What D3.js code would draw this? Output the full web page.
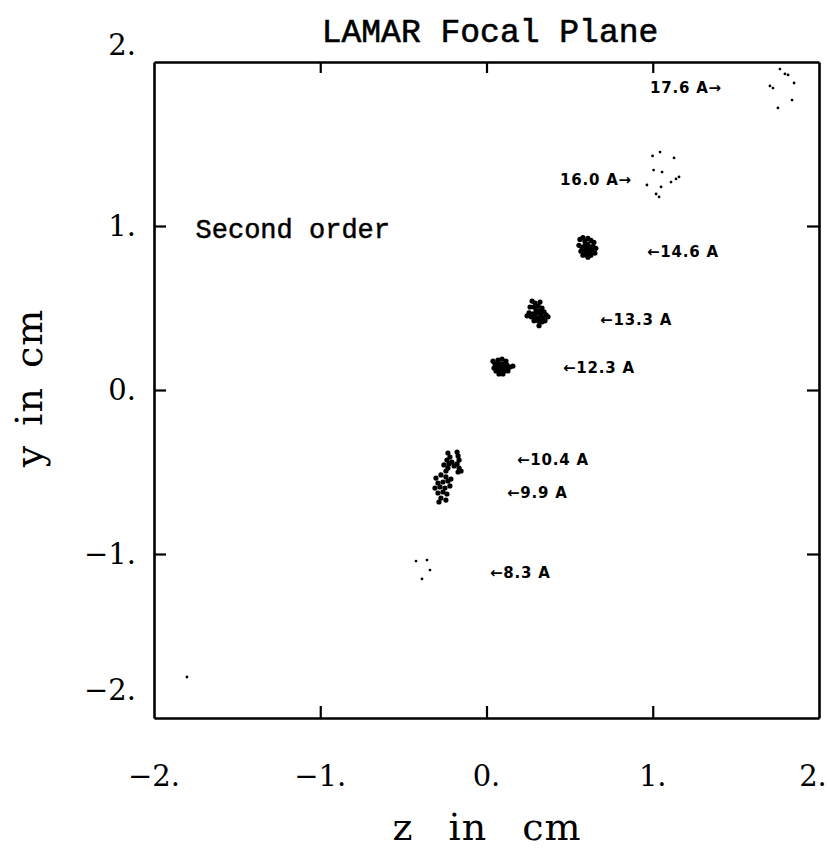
<!DOCTYPE html>
<html><head><meta charset="utf-8">
<script src="https://cdn.jsdelivr.net/npm/d3@7/dist/d3.min.js"></script>
<style>
html,body{margin:0;padding:0;background:#fff;}
</style></head>
<body>
<svg id="chart" width="829" height="863"></svg>
<script>
// ---------- DATA ----------
const title = "LAMAR Focal Plane";
const annotation = "Second order";
const xAxisLabel = "z in cm";
const yAxisLabel = "y in cm";
const tickValues = [-2, -1, 0, 1, 2];
const tickLabels = ["\u22122.", "\u22121.", "0.", "1.", "2."];

// spot-diagram clusters, [z, y] in cm
const spot176 = [[1.765,1.957],[1.795,1.927],[1.814,1.921],[1.850,1.872],[1.705,1.854],[1.723,1.841],[1.838,1.768],[1.753,1.720]];
const spot160 = [[0.999,1.427],[1.044,1.451],[1.128,1.415],[1.056,1.329],[1.005,1.341],[1.158,1.299],[1.140,1.287],[1.110,1.268],[0.965,1.250],[1.050,1.238],[1.020,1.195],[1.038,1.177]];
const spot146 = [[0.562,0.918],[0.580,0.930],[0.592,0.906],[0.610,0.924],[0.628,0.912],[0.646,0.900],[0.556,0.882],[0.574,0.870],[0.592,0.882],[0.610,0.888],[0.622,0.870],[0.640,0.876],[0.658,0.864],[0.568,0.846],[0.586,0.852],[0.604,0.858],[0.616,0.840],[0.634,0.852],[0.598,0.828],[0.610,0.810],[0.628,0.822],[0.580,0.822],[0.652,0.834]];
const spot133 = [[0.274,0.542],[0.292,0.530],[0.322,0.536],[0.262,0.506],[0.286,0.506],[0.310,0.512],[0.334,0.500],[0.298,0.488],[0.322,0.482],[0.346,0.476],[0.256,0.470],[0.280,0.464],[0.304,0.470],[0.328,0.458],[0.358,0.458],[0.268,0.446],[0.292,0.446],[0.316,0.440],[0.340,0.440],[0.370,0.446],[0.286,0.422],[0.310,0.422],[0.334,0.416],[0.244,0.452],[0.316,0.392],[0.352,0.422]];
const spot123 = [[0.069,0.182],[0.093,0.188],[0.117,0.176],[0.051,0.158],[0.075,0.158],[0.099,0.158],[0.123,0.152],[0.045,0.134],[0.069,0.140],[0.093,0.140],[0.117,0.134],[0.141,0.140],[0.057,0.116],[0.081,0.116],[0.105,0.116],[0.129,0.116],[0.075,0.098],[0.099,0.098],[0.159,0.146],[0.039,0.176]];
const spot104 = [[-0.232,-0.384],[-0.220,-0.409],[-0.238,-0.427],[-0.226,-0.451],[-0.232,-0.476],[-0.244,-0.494],[-0.177,-0.378],[-0.171,-0.402],[-0.165,-0.427],[-0.177,-0.451],[-0.165,-0.476],[-0.171,-0.500],[-0.153,-0.494],[-0.208,-0.439],[-0.195,-0.463],[-0.256,-0.457]];
const spot99 = [[-0.304,-0.537],[-0.274,-0.518],[-0.244,-0.530],[-0.292,-0.567],[-0.262,-0.561],[-0.232,-0.555],[-0.310,-0.598],[-0.280,-0.591],[-0.250,-0.598],[-0.220,-0.585],[-0.292,-0.628],[-0.262,-0.622],[-0.238,-0.634],[-0.274,-0.659],[-0.244,-0.671],[-0.286,-0.683],[-0.214,-0.543]];
const spot83 = [[-0.424,-1.043],[-0.358,-1.037],[-0.340,-1.098],[-0.388,-1.152]];
const strayPoints = [[-1.802,-1.750]];

const clusters = [spot176, spot160, spot146, spot133, spot123, spot104, spot99, spot83, strayPoints];
const clusterDense = [false, false, true, true, true, true, true, false, false];

// wavelength annotations
const labelText = ["17.6 A\u2192", "16.0 A\u2192", "\u219014.6 A", "\u219013.3 A", "\u219012.3 A", "\u219010.4 A", "\u21909.9 A", "\u21908.3 A"];
const labelZ = [0.983, 0.442, 0.965, 0.683, 0.460, 0.183, 0.123, 0.021];
const labelY = [1.841, 1.280, 0.841, 0.427, 0.134, -0.427, -0.628, -1.116];

// ---------- DRAW ----------
const svg = d3.select("#chart");
const L = 154, R = 819, T = 62, B = 718;
const x = d3.scaleLinear().domain([-2, 2]).range([L, R]);
const y = d3.scaleLinear().domain([-2, 2]).range([B, T]);

const inner = [-1, 0, 1];
function styleAxis(g){
  g.select(".domain").attr("stroke","#000").attr("stroke-width",2.6);
  g.selectAll(".tick line").attr("stroke","#000").attr("stroke-width",2.2);
}
svg.append("g").attr("transform",`translate(0,${B})`)
  .call(d3.axisBottom(x).tickValues(inner).tickSize(-12).tickSizeOuter(0).tickFormat("")).call(styleAxis);
svg.append("g").attr("transform",`translate(0,${T})`)
  .call(d3.axisTop(x).tickValues(inner).tickSize(-11).tickSizeOuter(0).tickFormat("")).call(styleAxis);
svg.append("g").attr("transform",`translate(${L},0)`)
  .call(d3.axisLeft(y).tickValues(inner).tickSize(-12).tickSizeOuter(0).tickFormat("")).call(styleAxis);
svg.append("g").attr("transform",`translate(${R},0)`)
  .call(d3.axisRight(y).tickValues(inner).tickSize(-12).tickSizeOuter(0).tickFormat("")).call(styleAxis);

const serif = "'DejaVu Serif', 'Liberation Serif', serif";
// x tick labels
svg.append("g").selectAll("text").data(tickValues).join("text")
  .attr("x", d => x(d) + (d === 2 ? -6 : 0)).attr("y", 786)
  .attr("text-anchor","middle")
  .attr("font-family", serif).attr("font-size", 29)
  .text((d,i) => tickLabels[i]);
// y tick labels
svg.append("g").selectAll("text").data(tickValues).join("text")
  .attr("x", 136)
  .attr("y", d => y(d) + (d === 2 ? -17 : d === -2 ? -28 : 0))
  .attr("dy", "0.36em")
  .attr("text-anchor","end")
  .attr("font-family", serif).attr("font-size", 29)
  .text((d,i) => tickLabels[i]);

// axis titles
svg.append("text").attr("x", 487).attr("y", 840).attr("text-anchor","middle")
  .attr("font-family", serif).attr("font-size", 38).attr("letter-spacing", 1).attr("word-spacing", 22)
  .text(xAxisLabel);
svg.append("text").attr("transform","translate(42,388) rotate(-90)").attr("text-anchor","middle")
  .attr("font-family", serif).attr("font-size", 38).attr("letter-spacing", 1).attr("word-spacing", 6)
  .text(yAxisLabel);

// title and annotation
const mono = "'Liberation Mono', 'DejaVu Sans Mono', monospace";
svg.append("text").attr("x", 490).attr("y", 42).attr("text-anchor","middle")
  .attr("font-family", mono).attr("font-size", 33)
  .attr("stroke","#000").attr("stroke-width",0.6)
  .text(title);
svg.append("text").attr("x", x(-1.75)).attr("y", 238)
  .attr("font-family", mono).attr("font-size", 27)
  .attr("stroke","#000").attr("stroke-width",0.5)
  .text(annotation);

// spots
clusters.forEach((pts, ci) => {
  svg.append("g").selectAll("circle").data(pts).join("circle")
    .attr("cx", d => x(d[0])).attr("cy", d => y(d[1]))
    .attr("r", clusterDense[ci] ? 2.6 : 1.4)
    .attr("fill","#000");
});

// wavelength labels
svg.append("g").selectAll("text").data(labelText).join("text")
  .attr("x", (d,i) => x(labelZ[i])).attr("y", (d,i) => y(labelY[i]))
  .attr("dy","0.35em")
  .attr("font-family","'DejaVu Sans', sans-serif").attr("font-weight","bold").attr("font-size",15)
  .attr("letter-spacing", 0.8)
  .text(d => d);
</script>
</body></html>
